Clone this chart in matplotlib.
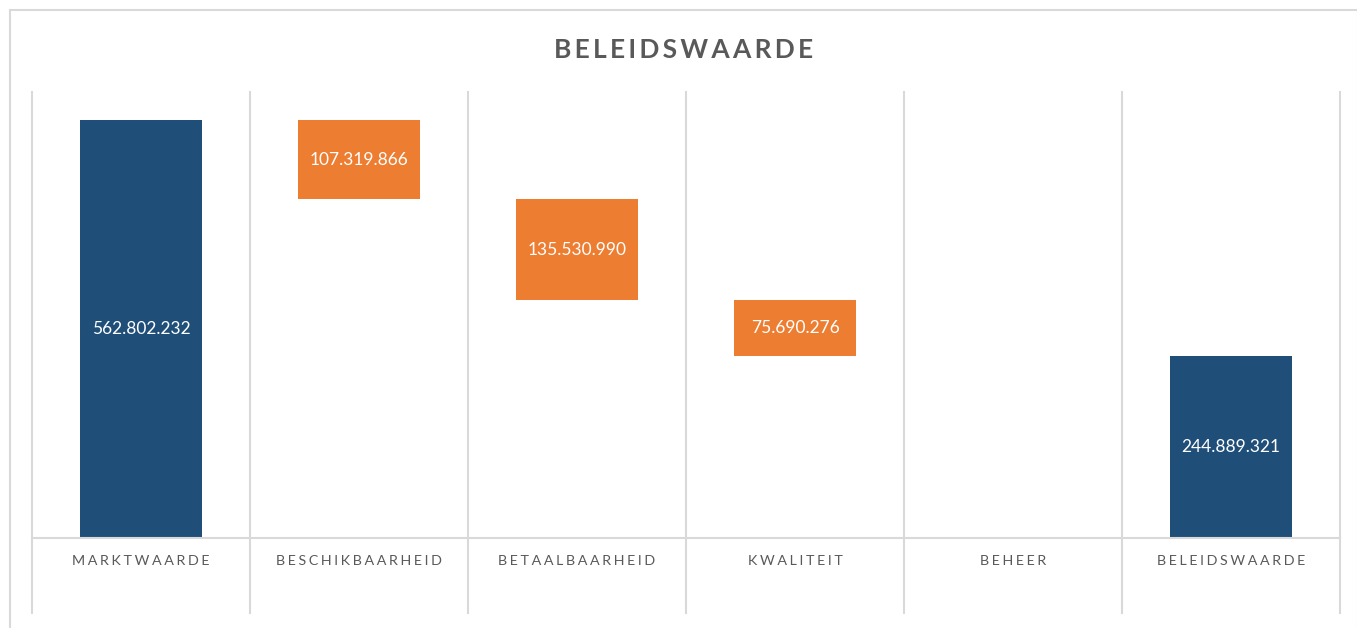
import matplotlib
matplotlib.use("Agg")
import matplotlib.pyplot as plt
from matplotlib.patches import Rectangle
import numpy as np

categories = ["MARKTWAARDE", "BESCHIKBAARHEID", "BETAALBAARHEID", "KWALITEIT", "BEHEER", "BELEIDSWAARDE"]
start_value = 562802232
changes = [-107319866, -135530990, -75690276, 628221]
end_value = 244889321
title = "BELEIDSWAARDE"

NAVY = "#1F4E79"
ORANGE = "#ED7D31"
GRID = "#D9D9D9"
TXT = "#595959"

def spaced(s, sep="\u2009"):
    return sep.join(list(s))

plt.rcParams['font.family'] = ['Lato', 'DejaVu Sans']

W, H = 1357, 628
fig = plt.figure(figsize=(W / 100, H / 100), dpi=100)
fig.patch.set_facecolor("white")

# outer border
fig.add_artist(Rectangle((10 / W, -0.01), (W - 9) / W, (H - 10) / H + 0.01,
                         transform=fig.transFigure, fill=False, edgecolor=GRID, lw=1.5))

ax = fig.add_axes([32 / W, (H - 538) / H, (1340 - 32) / W, (538 - 92) / H])
ax.set_xlim(-0.5, len(categories) - 0.5)
ax.set_ylim(0, 600e6)
for s in ax.spines.values():
    s.set_visible(False)
ax.set_yticks([])
ax.set_xticks([])

ext = (613 - 538) / (538 - 92)
for xb in np.arange(-0.5, len(categories), 1.0):
    ax.axvline(xb, ymin=-ext, ymax=1, color=GRID, lw=1.5, clip_on=False, zorder=0)
ax.axhline(0, color=GRID, lw=1.5, clip_on=False, zorder=3)

width = 0.56
lab_fs = 12.5
# first bar
ax.bar(0, start_value, width=width, color=NAVY, zorder=2)
ax.text(0, start_value / 2, f"{start_value:,}".replace(",", "."), ha="center", va="center",
        color="white", fontsize=lab_fs, zorder=4)

level = start_value
for i, ch in enumerate(changes, start=1):
    if i == 4:
        # tiny change, label sits at the baseline (barely visible in reference)
        ax.text(i, 0, f"{abs(ch):,}".replace(",", "."), ha="center", va="center",
                color="white", fontsize=lab_fs, zorder=2, alpha=0.9)
        level += ch
        continue
    bottom = level + ch if ch < 0 else level
    ax.bar(i, abs(ch), bottom=bottom, width=width, color=ORANGE, zorder=2)
    ax.text(i, bottom + abs(ch) / 2, f"{abs(ch):,}".replace(",", "."), ha="center", va="center",
            color="white", fontsize=lab_fs, zorder=4)
    level += ch

n = len(categories) - 1
ax.bar(n, end_value, width=width, color=NAVY, zorder=2)
ax.text(n, end_value / 2, f"{end_value:,}".replace(",", "."), ha="center", va="center",
        color="white", fontsize=lab_fs, zorder=4)

for i, c in enumerate(categories):
    ax.annotate(spaced(c, "\u2009\u200a"), xy=(i, 0), xytext=(0, -16.5), textcoords="offset points",
                ha="center", va="center", color=TXT, fontsize=10.3)

fig.text(684 / W, 1 - 50 / H, spaced(title, "\u2009"), ha="center", va="center",
         color=TXT, fontsize=19, fontweight="bold")

fig.savefig("out.png", dpi=100, facecolor="white")
